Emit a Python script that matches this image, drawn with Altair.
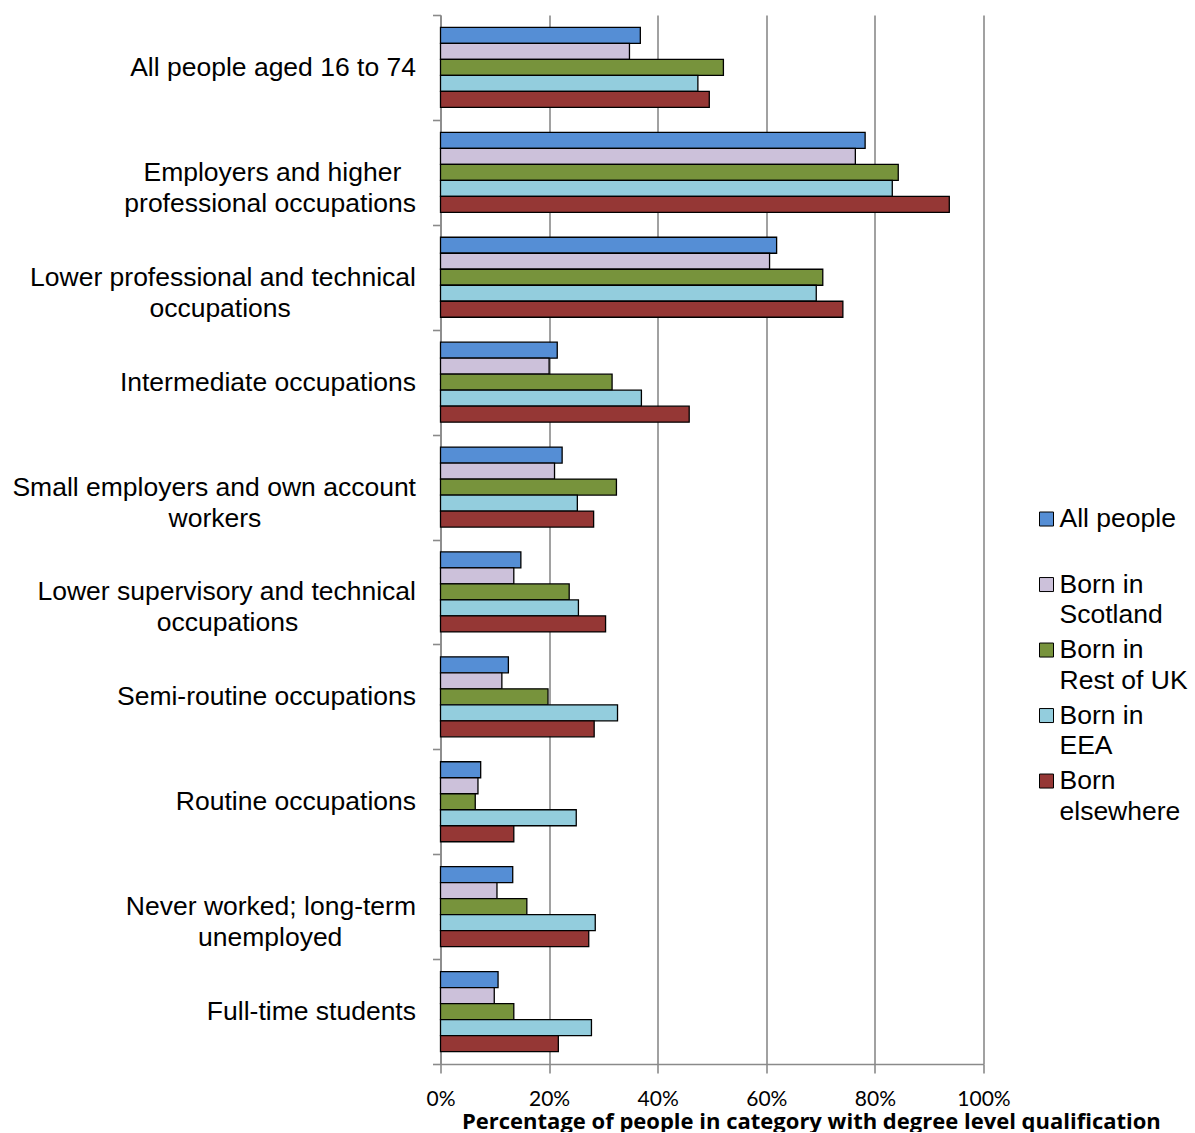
import altair as alt
import pandas as pd

categories = [
    "All people aged 16 to 74",
    "Employers and higher\nprofessional occupations",
    "Lower professional and technical\noccupations",
    "Intermediate occupations",
    "Small employers and own account\nworkers",
    "Lower supervisory and technical\noccupations",
    "Semi-routine occupations",
    "Routine occupations",
    "Never worked; long-term\nunemployed",
    "Full-time students",
]
series = ["All people", "Born in Scotland", "Born in Rest of UK", "Born in EEA", "Born elsewhere"]

all_people = [36.8, 78.2, 61.9, 21.5, 22.4, 14.8, 12.5, 7.4, 13.3, 10.6]
born_scotland = [34.8, 76.4, 60.6, 20.0, 21.0, 13.5, 11.3, 6.9, 10.4, 9.9]
born_rest_uk = [52.1, 84.3, 70.4, 31.6, 32.4, 23.7, 19.8, 6.4, 15.9, 13.5]
born_eea = [47.4, 83.2, 69.2, 37.0, 25.2, 25.4, 32.6, 25.0, 28.5, 27.8]
born_elsewhere = [49.5, 93.7, 74.1, 45.8, 28.2, 30.4, 28.3, 13.5, 27.3, 21.7]

colors = ["#558ED5", "#CCC1DA", "#77933C", "#93CDDD", "#953735"]
legend_line1 = ["All people", "Born in", "Born in", "Born in", "Born"]
legend_line2 = ["", "Scotland", "Rest of UK", "EEA", "elsewhere"]
x_ticks = [0, 20, 40, 60, 80, 100]

# trailing no-break spaces per label line, so that right-aligned lines look centred
line_pads = [[0], [2, 0], [0, 17], [0], [0, 21], [0, 16], [0], [0], [0, 10], [0]]

NBSP = "\u00a0"
ZWSP = "\u200b"  # keeps the no-break spaces from being trimmed
display = []
for cat, pads in zip(categories, line_pads):
    lines = cat.split("\n")
    display.append("\n".join((l + NBSP * p + ZWSP) if p else l for l, p in zip(lines, pads)))

values_by_series = [all_people, born_scotland, born_rest_uk, born_eea, born_elsewhere]
rows = []
for i, cat in enumerate(display):
    for s, vals in zip(series, values_by_series):
        rows.append({"category": cat, "series": s, "value": vals[i]})
df = pd.DataFrame(rows)

GRID = "#8a8a8a"

bars = alt.Chart(df).mark_bar(stroke="black", strokeWidth=1.3).encode(
    x=alt.X(
        "value:Q",
        scale=alt.Scale(domain=[0, 100], nice=False),
        axis=alt.Axis(
            values=x_ticks,
            labelExpr="datum.value + '%'",
            title="Percentage of people in category with degree level qualification",
            grid=True, gridColor=GRID, gridWidth=1.6,
            domainColor=GRID, domainWidth=1.6,
            tickColor=GRID, tickWidth=1.6, tickSize=9,
            labelFont="Lato", labelFontSize=21, labelColor="black", labelPadding=15,
            labelFlush=False,
            titleFont="Open Sans", titleFontSize=22, titleFontWeight="bold", titleColor="black",
            titleAnchor="start", titleAlign="left", titleX=21, titleY=64,
            titleBaseline="alphabetic",
        ),
    ),
    y=alt.Y(
        "category:N",
        sort=display,
        scale=alt.Scale(paddingInner=0, paddingOuter=0),
        axis=alt.Axis(
            title=None, tickBand="extent", grid=False,
            domainColor=GRID, domainWidth=1.6,
            tickColor=GRID, tickWidth=1.6, tickSize=8,
            labelExpr="split(datum.label, '\\n')",
            labelFont="Liberation Sans", labelFontSize=26.5, labelLineHeight=31,
            labelLimit=0, labelAlign="right", labelColor="black",
            labelPadding=17,
        ),
    ),
    yOffset=alt.YOffset("series:N", sort=series, scale=alt.Scale(paddingInner=0, paddingOuter=0.78)),
    color=alt.Color("series:N", scale=alt.Scale(domain=series, range=colors), legend=None),
).properties(width=543, height=1049)

# legend entries, in order from top to bottom
leg_df = pd.DataFrame({
    "series": series,
    "order": list(range(len(series))),
    "line1": legend_line1,
    "line2": legend_line2,
})
ly = alt.Y("order:Q", scale=alt.Scale(domain=[8.32, -7.695], nice=False, zero=False), axis=None)

sym = alt.Chart(leg_df).mark_point(
    shape="square", filled=True, size=196, stroke="black", strokeWidth=1, opacity=1
).encode(
    x=alt.value(7),
    y=ly,
    fill=alt.Fill("series:N", scale=alt.Scale(domain=series, range=colors), legend=None),
)
txt1 = alt.Chart(leg_df).mark_text(
    align="left", baseline="middle", font="Liberation Sans", fontSize=26.5, color="black"
).encode(x=alt.value(20), y=ly, text="line1:N")
txt2 = alt.Chart(leg_df).mark_text(
    align="left", baseline="middle", font="Liberation Sans", fontSize=26.5, color="black", dy=30.5
).encode(x=alt.value(20), y=ly, text="line2:N")

legend = alt.layer(sym, txt1, txt2).properties(width=150, height=1049)

chart = alt.hconcat(bars, legend, spacing=56, bounds="flush").resolve_scale(
    y="independent", color="independent", fill="independent"
).properties(
    padding={"left": 11.5, "top": 2, "right": 0, "bottom": 0},
    background="white",
).configure_view(stroke=None)

chart.save("out.html", embed_options={"renderer": "svg", "actions": False})
